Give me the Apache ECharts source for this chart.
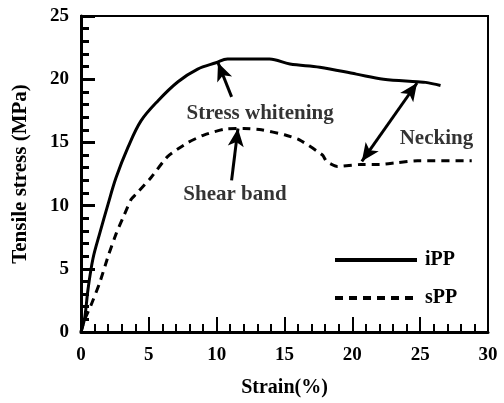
<!DOCTYPE html>
<html><head><meta charset="utf-8">
<script src="https://cdn.jsdelivr.net/npm/echarts@6/dist/echarts.min.js"></script>
<style>html,body{margin:0;padding:0;background:#fff}#c{width:504px;height:403px}</style>
</head><body><div id="c"></div>
<script>
// ---- data ----
const ippStrain = [0, 0.27, 0.52, 0.88, 1.38, 1.99, 2.58, 3.46, 4.42, 5.68, 7.15, 8.6, 9.95, 10.8, 13.9, 15.4, 17.6, 20.3, 22.3, 24.8, 25.4, 26.5];
const ippStress = [0, 1.1, 3.4, 5.8, 7.8, 10.1, 12.2, 14.6, 16.7, 18.3, 19.8, 20.8, 21.3, 21.6, 21.6, 21.2, 20.95, 20.4, 20.0, 19.8, 19.75, 19.5];
const sppStrain = [0, 0.2, 0.73, 1.38, 2.0, 2.6, 3.2, 3.7, 4.05, 5.15, 6.4, 7.9, 9.1, 10.6, 12.0, 13.3, 15.0, 16.1, 17.8, 18.1, 18.9, 20.6, 22.0, 23.3, 24.8, 28.8];
const sppStress = [0, 0.8, 2.1, 3.9, 6.0, 7.8, 9.3, 10.5, 10.9, 12.2, 13.9, 15.0, 15.6, 16.05, 16.1, 16.0, 15.6, 15.2, 14.0, 13.5, 13.1, 13.25, 13.25, 13.4, 13.55, 13.55];
const seriesNames = ['iPP', 'sPP'];
const xTitle = 'Strain(%)';
const yTitle = 'Tensile stress (MPa)';
const noteTexts = ['Stress whitening', 'Shear band', 'Necking'];
const noteAt = [[13.2, 17.3], [11.35, 10.9], [26.2, 15.3]];
const arrows = [
  {from: [11.1, 18.6], to: [10.1, 21.3], both: false},
  {from: [11.1, 12.0], to: [11.57, 16.1], both: false},
  {from: [24.77, 19.7], to: [20.7, 13.5], both: true}
];

const FONT = "'Liberation Serif', 'Times New Roman', serif";
const zip = (a, b) => a.map((v, i) => [v, b[i]]);
const txt = {fontFamily: FONT, fontWeight: 'bold', color: '#000'};

const chart = echarts.init(document.getElementById('c'), null, {renderer: 'canvas'});
chart.setOption({
  animation: false,
  backgroundColor: '#fff',
  grid: {left: 81, right: 16, top: 16, bottom: 66, show: true, borderColor: '#000', borderWidth: 2, backgroundColor: 'transparent'},
  legend: {
    data: seriesNames, orient: 'vertical', left: 328, top: 245, itemWidth: 82, itemHeight: 14, itemGap: 18,
    itemStyle: {opacity: 0},
    lineStyle: {width: 4},
    textStyle: Object.assign({fontSize: 20, padding: [0, 0, 0, 3]}, txt)
  },
  xAxis: {
    type: 'value', min: 0, max: 30, interval: 5,
    name: xTitle, nameLocation: 'middle', nameGap: 46,
    nameTextStyle: Object.assign({fontSize: 20}, txt),
    axisLine: {show: true, lineStyle: {color: '#000', width: 3}},
    axisTick: {show: true, inside: true, length: 15, lineStyle: {color: '#000', width: 2}},
    minorTick: {show: true, splitNumber: 5, length: 8, lineStyle: {color: '#000', width: 2}},
    axisLabel: Object.assign({fontSize: 19, margin: 14}, txt),
    splitLine: {show: false}
  },
  yAxis: {
    type: 'value', min: 0, max: 25, interval: 5,
    name: yTitle, nameLocation: 'middle', nameGap: 50,
    nameTextStyle: Object.assign({fontSize: 21}, txt),
    axisLine: {show: true, lineStyle: {color: '#000', width: 3}},
    axisTick: {show: true, inside: true, length: 14, lineStyle: {color: '#000', width: 3}},
    minorTick: {show: true, splitNumber: 5, length: 8, lineStyle: {color: '#000', width: 3}},
    axisLabel: Object.assign({fontSize: 19, margin: 12}, txt),
    splitLine: {show: false}
  },
  series: [
    {
      name: seriesNames[0], type: 'line', data: zip(ippStrain, ippStress), symbol: 'none', smooth: 0.35,
      lineStyle: {color: '#000', width: 3}, itemStyle: {color: '#000'}
    },
    {
      name: seriesNames[1], type: 'line', data: zip(sppStrain, sppStress), symbol: 'none', smooth: 0.2,
      lineStyle: {color: '#000', width: 3, type: [8, 6]}, itemStyle: {color: '#000'}
    },
    {
      name: 'notes', type: 'scatter', symbolSize: 0, silent: true,
      data: noteAt.map((p, i) => ({value: p, name: noteTexts[i]})),
      label: Object.assign({show: true, position: 'inside', fontSize: 21, formatter: p => p.name}, txt),
      markLine: {
        silent: true, symbolSize: [12, 18], animation: false,
        lineStyle: {color: '#000', width: 3, type: 'solid'},
        label: {show: false},
        data: arrows.map(a => [
          {coord: a.from, symbol: a.both ? 'arrow' : 'none'},
          {coord: a.to, symbol: 'arrow'}
        ])
      }
    }
  ]
});
</script></body></html>
